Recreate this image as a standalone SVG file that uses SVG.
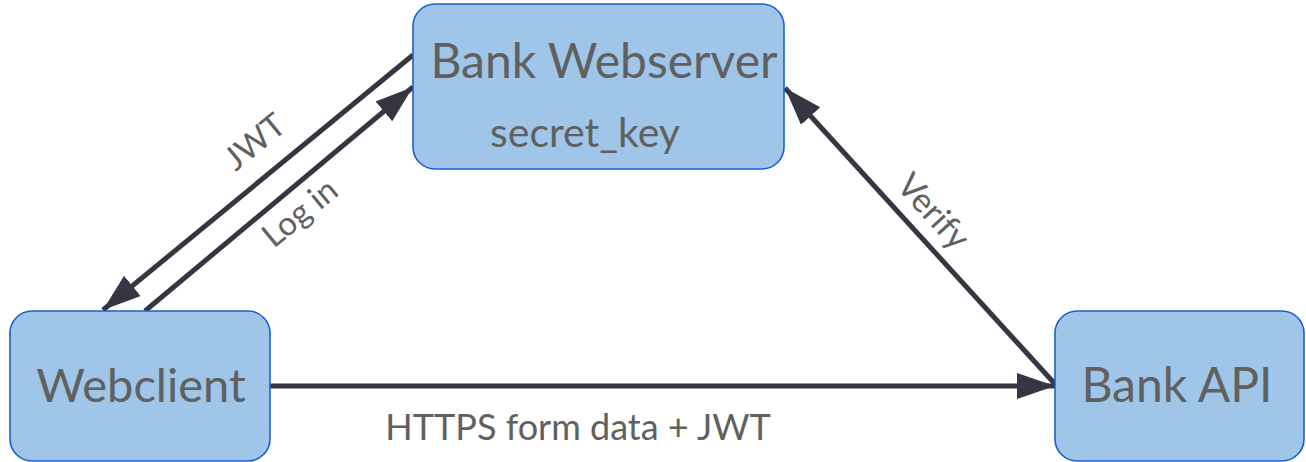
<svg xmlns="http://www.w3.org/2000/svg" width="1306" height="462" viewBox="0 0 1306 462">
<defs>
<style>
.node{fill:#9fc5e8;stroke:#1c5fcf;stroke-width:1.6}
.t{font-family:"Lato","Open Sans","Liberation Sans",sans-serif;fill:#606060}
.edge{stroke:#363642;stroke-width:5;fill:none}
</style>
<marker id="ah" markerUnits="userSpaceOnUse" markerWidth="40" markerHeight="28" refX="38" refY="13" orient="auto">
<path d="M0,0 L38,13 L0,26 Z" fill="#363642"/>
</marker>
</defs>
<rect width="1306" height="462" fill="#fff"/>
<g id="connectors">
<line class="edge" x1="413" y1="55" x2="103" y2="310" marker-end="url(#ah)"/>
<line class="edge" x1="145" y1="311" x2="413" y2="87" marker-end="url(#ah)"/>
<line class="edge" x1="1055" y1="384" x2="785" y2="88" marker-end="url(#ah)"/>
<line class="edge" x1="270" y1="386" x2="1055" y2="386" marker-end="url(#ah)"/>
<text class="t" font-size="33" text-anchor="middle" transform="translate(255,142) rotate(-39.4)" dy="11">JWT</text>
<text class="t" font-size="33" text-anchor="middle" transform="translate(300,213) rotate(-39.4)" dy="11">Log in</text>
<text class="t" font-size="34" text-anchor="middle" transform="translate(933,212) rotate(47.5)" dy="11">Verify</text>
<text class="t" font-size="36" text-anchor="middle" x="578" y="440">HTTPS form data + JWT</text>
</g>
<g id="webserver">
<rect class="node" x="413" y="4" width="371" height="165" rx="22"/>
<text class="t" font-size="48" text-anchor="middle" x="604" y="78">Bank Webserver</text>
<text class="t" font-size="41" text-anchor="middle" x="585" y="147">secret_key</text>
</g>
<g id="webclient">
<rect class="node" x="10" y="311" width="260" height="150" rx="22"/>
<text class="t" font-size="47" text-anchor="middle" x="141" y="402">Webclient</text>
</g>
<g id="bankapi">
<rect class="node" x="1055" y="311" width="249" height="150" rx="22"/>
<text class="t" font-size="48" text-anchor="middle" x="1177" y="402">Bank API</text>
</g>
</svg>
